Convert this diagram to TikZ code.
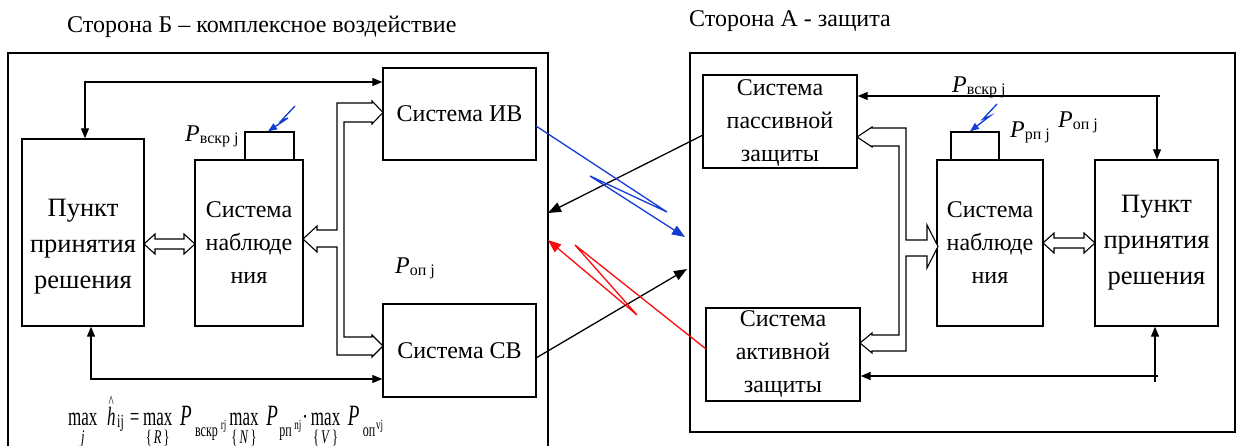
\documentclass[tikz,border=0pt]{standalone}
\usepackage{fontspec}
\setmainfont{Liberation Serif}
\usetikzlibrary{arrows.meta,calc}
\definecolor{lblue}{RGB}{20,60,210}
\definecolor{lred}{RGB}{250,10,10}
\newcommand{\fsBox}{\fontsize{24}{33}\selectfont}
\newcommand{\fsPunkt}{\fontsize{26.5}{36}\selectfont}
\newcommand{\fsTitle}{\fontsize{24}{28}\selectfont}
\newcommand{\Plab}[1]{{\fontsize{24}{24}\selectfont\itshape P}{\fontsize{16}{16}\selectfont\raisebox{-2pt}{#1}}}
\newcommand{\fmS}{\fontsize{12}{12}\selectfont}
\newcommand{\fmU}{\fontsize{12.5}{12}\selectfont}
\newcommand{\fmT}{\fontsize{9}{9}\selectfont}
\newcommand{\PP}{{\fontsize{19}{12}\selectfont\itshape P}}
\newcommand{\mxu}[1]{\vtop{\halign{\hfil##\hfil\cr max\cr\fmU #1\cr}}}
\newcommand{\hh}{\makebox[0pt][l]{\hspace{1.5pt}\raisebox{11.5pt}{\fontsize{11}{11}\selectfont\textasciicircum}}\textit{h}}
\begin{document}
\begin{tikzpicture}[x=1pt,y=-1pt,
  >={Triangle[length=10pt,width=8pt]},
  box/.style={draw,line width=1.4pt,inner sep=0pt,align=center,font=\fsBox},
  pbox/.style={box,font=\fsPunkt},
  conn/.style={line width=1.2pt},
  frame/.style={draw,line width=1.2pt},
  hollow/.style={draw,line width=1.1pt,fill=white,line join=miter},
  xarrow/.style={line width=1.3pt,-{Triangle[length=13pt,width=10pt]}},
  zap/.style={line width=1.3pt,lblue,-{Triangle[length=9pt,width=7pt]}},
  lab/.style={anchor=base west,inner sep=0pt}]
\useasboundingbox (0,0) rectangle (1239,446);

% titles
\node[lab,font=\fsTitle] (titleL) at (67,33) {Сторона Б – комплексное воздействие};
\node[lab,font=\fsTitle] (titleR) at (689,27) {Сторона А - защита};

% frames
\draw[frame] (8,460) -- (8,53) -- (548,53) -- (548,460);
\draw[frame] (690,53) rectangle (1235,432);

% left side boxes
\node[box,minimum width=122,minimum height=187] (punktL) at (83,232.5) {};
\node[inner sep=0pt,align=center,font=\fsPunkt] (punktLt) at (83,247) {Пункт\\принятия\\решения};
\node[box,minimum width=108,minimum height=166] (nablL) at (249,243) {Система\\наблюде\\ния};
\node[box,minimum width=49,minimum height=28] (sensL) at (269.5,146) {};
\node[box,minimum width=153,minimum height=92] (iv) at (459.5,114) {Система ИВ};
\node[box,minimum width=153,minimum height=93] (sv) at (459.5,350.5) {Система СВ};

% right side boxes
\node[box,minimum width=154,minimum height=93] (pass) at (780,121.5) {};
\node[inner sep=0pt,align=center,font=\fsBox] (passt) at (780,123.5) {Система\\пассивной\\защиты};
\node[box,minimum width=154,minimum height=93] (akt) at (783,354.5) {Система\\активной\\защиты};
\node[box,minimum width=106,minimum height=166] (nablR) at (990,243) {Система\\наблюде\\ния};
\node[box,minimum width=48,minimum height=28] (sensR) at (975,146) {};
\node[pbox,minimum width=123,minimum height=166] (punktR) at (1156.5,243) {Пункт\\принятия\\решения};

% labels
\node[lab] (pvL) at (185,142) {\Plab{вскр j}};
\node[lab] (popL) at (395,273) {\Plab{оп j}};
\node[lab] (pvR) at (952,93) {\Plab{вскр j}};
\node[lab] (prpR) at (1010,138) {\Plab{рп j}};
\node[lab] (popR) at (1058,128) {\Plab{оп j}};

% formula
\node[lab] (formula) at (68,425) {\scalebox{1}[1.55]{\fontsize{17}{12}\selectfont
\mxu{\textit{j}}\hspace{9.7pt}\hh\hspace{1.5pt}\raisebox{-1.3pt}{\fmS ij}\hspace{6pt}=\hspace{3.7pt}%
\mxu{\{\,\textit{R}\,\}}\hspace{7.7pt}\PP\hspace{3.4pt}\raisebox{-7.4pt}{\fmS вскр}\hspace{3pt}\raisebox{-3.2pt}{\fmT rj}\hspace{3pt}%
\mxu{\{\,\textit{N}\,\}}\hspace{7.7pt}\PP\hspace{1.4pt}\raisebox{-7.4pt}{\fmS рп}\hspace{2.6pt}\raisebox{-3.2pt}{\fmT nj}\hspace{1pt}\textperiodcentered\hspace{3pt}%
\mxu{\{\,\textit{V}\,\}}\hspace{7.7pt}\PP\hspace{3.4pt}\raisebox{-7.4pt}{\fmS оп}\hspace{0.6pt}\raisebox{-3.2pt}{\fmT vj}}};

% connector coordinates
\coordinate (t1) at (85,82);
\coordinate (b1) at (91,379);
\coordinate (t2) at (1160,96);
\coordinate (t2v) at (1157,96);
\coordinate (b2) at (1158,376);
\coordinate (b3) at (1155,382);

\draw[conn,<->] (punktL.north -| t1) |- (iv.west |- t1);
\draw[conn,<->] (punktL.south -| b1) |- (sv.west |- b1);
\draw[conn,->] (t2) -- (pass.east |- t2);
\draw[conn,->] (t2v) -- (punktR.north -| t2v);
\draw[conn,->] (b2) -- (akt.east |- b2);
\draw[conn,->] (b3) -- (punktR.south -| b3);

% hollow double arrows
\draw[hollow] (144,244) -- (155,234) -- (155,239) -- (184,239) -- (184,234) -- (195,244)
  -- (184,254) -- (184,249) -- (155,249) -- (155,254) -- cycle;
\draw[hollow] (1043,243) -- (1054,233) -- (1054,238) -- (1084,238) -- (1084,233) -- (1095,243)
  -- (1084,253) -- (1084,248) -- (1054,248) -- (1054,253) -- cycle;

% hollow pipes
\draw[hollow] (317,230) -- (337,230) -- (337,103) -- (372,103) -- (372,101) -- (383,112.5)
  -- (372,124) -- (372,122) -- (344,122) -- (344,337) -- (372,337) -- (372,335) -- (383,346)
  -- (372,357) -- (372,355) -- (337,355) -- (337,247) -- (317,247) -- (317,252) -- (303,239)
  -- (317,226) -- cycle;
\draw[hollow] (872,128) -- (906,128) -- (906,240) -- (927,240) -- (927,225) -- (938,246.5)
  -- (927,268) -- (927,256) -- (906,256) -- (906,351) -- (872,351) -- (872,353) -- (860,343)
  -- (872,333) -- (872,335) -- (899,335) -- (899,146) -- (872,146) -- (872,147) -- (857,137)
  -- (872,127) -- cycle;

% crossing arrows
\coordinate (k1s) at (703,135);
\coordinate (k1e) at (548,213);
\coordinate (k2s) at (536,358);
\coordinate (k2e) at (687,269);
\coordinate (bls) at (536,126);
\coordinate (bl1) at (667,212);
\coordinate (bl2) at (590,176);
\coordinate (ble) at (685,237);
\coordinate (rds) at (706,349);
\coordinate (rd1) at (575,245);
\coordinate (rd2) at (637,315);
\coordinate (rde) at (548,240);
\draw[xarrow] (k1s) -- (k1e);
\draw[xarrow] (k2s) -- (k2e);
\draw[xarrow,lblue,line join=miter] (bls) -- (bl1) -- (bl2) -- (ble);
\draw[xarrow,lred,line join=miter] (rds) -- (rd1) -- (rd2) -- (rde);

% lightning marks
\coordinate (zl0) at (295,106);
\coordinate (zl1) at (281,121);
\coordinate (zl2) at (288,118);
\draw[zap] (zl0) -- (zl1) -- (zl2) -- (sensL.north -| 268,0);
\coordinate (zr0) at (997,104);
\coordinate (zr1) at (983,119);
\coordinate (zr2) at (990,116);
\draw[zap] (zr0) -- (zr1) -- (zr2) -- (sensR.north -| 970,0);
\end{tikzpicture}
\end{document}
